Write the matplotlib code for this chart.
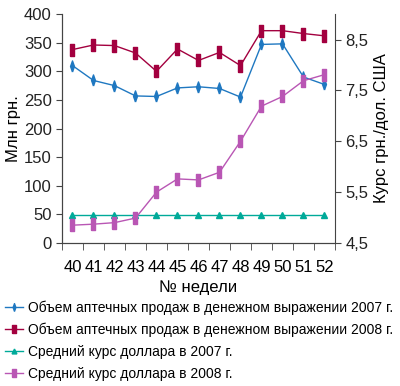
import matplotlib
matplotlib.use("Agg")
import matplotlib.pyplot as plt

plt.rcParams['font.family'] = ['Liberation Sans', 'DejaVu Sans']

weeks = list(range(40, 53))
sales_2007 = [310, 284, 275, 257, 256, 271, 273, 270, 255, 347, 348, 290, 277]
sales_2008 = [338, 346, 345, 332, 300, 339, 319, 333, 310, 371, 371, 366, 362]
rate_2007 = [5.05] * 13
rate_2008 = [4.85, 4.87, 4.90, 4.99, 5.50, 5.76, 5.74, 5.89, 6.50, 7.19, 7.38, 7.69, 7.81]

labels = ["Объем аптечных продаж в денежном выражении 2007 г.",
          "Объем аптечных продаж в денежном выражении 2008 г.",
          "Средний курс доллара в 2007 г.",
          "Средний курс доллара в 2008 г."]

blue = "#1f78c1"
red = "#a3003f"
teal = "#00aa99"
purple = "#b956b4"

bar = [(-0.35, -1), (0.35, -1), (0.35, 1), (-0.35, 1), (-0.35, -1)]
thin_diamond = [(0, -1), (0.35, 0), (0, 1), (-0.35, 0), (0, -1)]

fig = plt.figure(figsize=(4, 3.86), dpi=100)
ax = fig.add_axes([0.155, 0.3705, 0.6825, 0.593])
ax2 = ax.twinx()

l1, = ax.plot(weeks, sales_2007, color=blue, lw=1, marker=thin_diamond, ms=8, mec=blue)
l2, = ax.plot(weeks, sales_2008, color=red, lw=1, marker=bar, ms=9, mec=red)
l3, = ax2.plot(weeks, rate_2007, color=teal, lw=1, marker='^', ms=5, mec=teal)
l4, = ax2.plot(weeks, rate_2008, color=purple, lw=1, marker=bar, ms=9, mec=purple)

ax.set_xlim(39.5, 52.5)
ax.set_ylim(0, 400)
ax2.set_ylim(4.5, 9.0)
ax.set_yticks(range(0, 401, 50))
ax2.set_yticks([4.5, 5.5, 6.5, 7.5, 8.5])
ax2.set_yticklabels(["4,5", "5,5", "6,5", "7,5", "8,5"])
ax.set_xticks(weeks)
ax.set_xticks([w + 0.5 for w in range(39, 53)], minor=True)
ax.tick_params(axis='x', which='major', length=0, labelsize=12, pad=12)
ax.tick_params(axis='x', which='minor', length=5, direction='out', color='#444444')
ax.tick_params(axis='y', labelsize=12, length=4, color='#444444', labelcolor='#222222')
ax2.tick_params(axis='y', labelsize=12, length=4, color='#444444', labelcolor='#222222')

for a in (ax, ax2):
    a.spines['top'].set_visible(False)
    for s in ('left', 'right', 'bottom'):
        a.spines[s].set_color('#444444')
ax.spines['right'].set_visible(False)

ax.set_ylabel("Млн грн.", fontsize=12, labelpad=2)
ax2.set_ylabel("Курс грн./дол. США", fontsize=12, labelpad=4)
ax.set_xlabel("№ недели", fontsize=12, labelpad=4)

fig.legend([l1, l2, l3, l4], labels, loc='upper left', bbox_to_anchor=(0.005, 0.228),
           frameon=False, fontsize=10, handlelength=1.3, handletextpad=0.4,
           labelspacing=0.55, borderaxespad=0, borderpad=0.2, numpoints=1,
           markerscale=0.7)

fig.savefig("out.png", dpi=100)
